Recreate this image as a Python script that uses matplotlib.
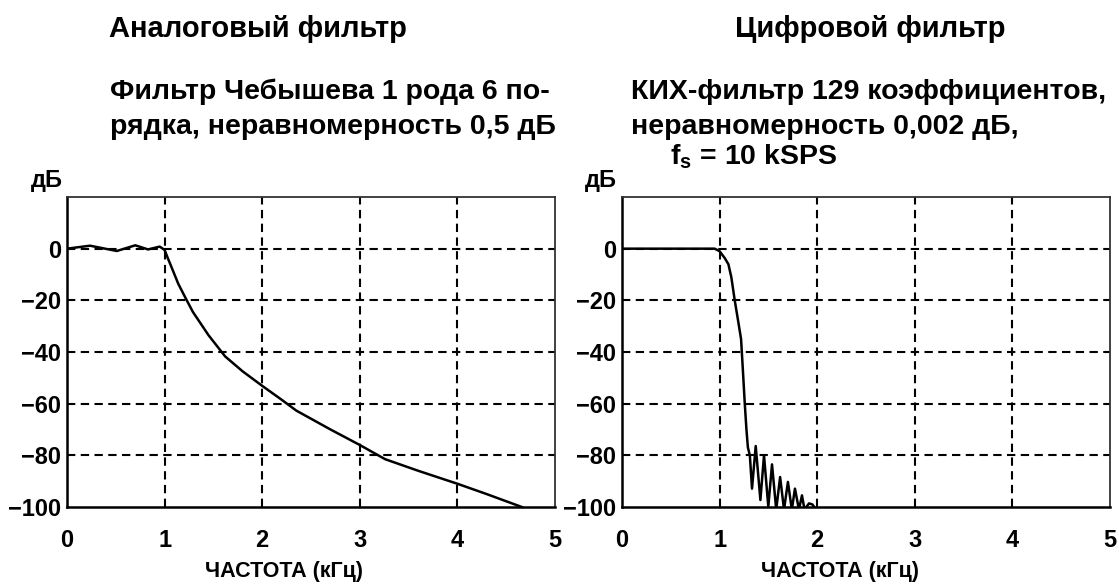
import matplotlib.pyplot as plt
import numpy as np

plt.rcParams['font.family'] = ['Liberation Sans', 'DejaVu Sans']
plt.rcParams['font.weight'] = 'bold'
plt.rcParams['mathtext.fontset'] = 'custom'
plt.rcParams['mathtext.bf'] = 'Liberation Sans:bold'
plt.rcParams['mathtext.rm'] = 'Liberation Sans:bold'

# analog: Chebyshev type 1, 6th order, 0.5 dB ripple
f_analog = [0, 0.236, 0.51, 0.70, 0.83, 0.95, 1.0, 1.03, 1.08, 1.14, 1.22, 1.29,
            1.45, 1.62, 1.8, 2.0, 2.2, 2.35, 2.7, 3.0, 3.26, 3.6, 4.0, 4.3, 4.66]
db_analog = [0, 1.15, -0.9, 1.3, -0.3, 0.8, -0.5, -3.4, -8, -13.6, -19.5, -24.5,
             -33.5, -41.7, -47.5, -53.1, -58.5, -62.7, -70, -76, -81.5, -86, -91, -95, -100]

# digital: FIR 129 taps
f_fir = [0, 0.5, 0.95, 1.0, 1.05, 1.09, 1.12, 1.155, 1.19, 1.22, 1.24, 1.258, 1.275,
         1.29, 1.31, 1.332, 1.37, 1.418, 1.455, 1.499, 1.537, 1.58, 1.62, 1.66, 1.70,
         1.74, 1.772, 1.813, 1.844, 1.87, 1.916, 1.95, 1.97, 1.99]
db_fir = [0, 0, 0, -1, -3.5, -6, -11, -20, -28, -35, -48, -60, -70,
          -77, -80, -92.9, -76.4, -97.3, -80, -99.9, -83.5, -101, -88.4, -101, -90.3,
          -101, -92.9, -101, -95.5, -101, -98.6, -99, -100, -101]

xticks = [0, 1, 2, 3, 4, 5]
yticks = [0, -20, -40, -60, -80, -100]
yticklabels = ['0', '\u221220', '\u221240', '\u221260', '\u221280', '\u2212100']

fig = plt.figure(figsize=(11.19, 5.85), dpi=100)
W, H = 1119, 585

def make_axes(left, f, db):
    ax = fig.add_axes([left / W, (H - 507) / H, 488 / W, 310 / H])
    ax.plot(f, db, color='black', lw=1.8)
    ax.set_xlim(0, 5)
    ax.set_ylim(-100, 20)
    ax.set_xticks(xticks)
    ax.set_yticks(yticks)
    ax.set_yticklabels(yticklabels)
    ax.tick_params(length=0, labelsize=17)
    ax.tick_params(axis='x', pad=16)
    ax.tick_params(axis='y', pad=4)
    for v in [1, 2, 3, 4]:
        ax.axvline(v, color='black', lw=1.5, ls=(0, (4, 2.6)), zorder=0)
    for v in [0, -20, -40, -60, -80]:
        ax.axhline(v, color='black', lw=1.5, ls=(0, (4, 2.6)), zorder=0)
    ax.spines['left'].set_linewidth(1.8)
    ax.spines['bottom'].set_linewidth(1.8)
    ax.spines['top'].set_linewidth(1.3)
    ax.spines['right'].set_linewidth(1.3)
    ax.spines['top'].set_color('#333333')
    ax.spines['right'].set_color('#333333')
    return ax

ax1 = make_axes(67, f_analog, db_analog)
ax2 = make_axes(622, f_fir, db_fir)

fig.text(258 / W, 1 - 29 / H, 'Аналоговый фильтр', ha='center', va='center', fontsize=21)
fig.text(870 / W, 1 - 29 / H, 'Цифровой фильтр', ha='center', va='center', fontsize=21)
fig.text(110 / W, 1 - 92 / H, 'Фильтр Чебышева 1 рода 6 по-', ha='left', va='center', fontsize=20.5)
fig.text(110 / W, 1 - 127 / H, 'рядка, неравномерность 0,5 дБ', ha='left', va='center', fontsize=20.5)
fig.text(631 / W, 1 - 92 / H, 'КИХ-фильтр 129 коэффициентов,', ha='left', va='center', fontsize=20.5)
fig.text(631 / W, 1 - 127 / H, 'неравномерность 0,002 дБ,', ha='left', va='center', fontsize=20.5)
fig.text(670 / W, 1 - 157 / H, '$\\mathbf{f_s}$ = 10 kSPS', ha='left', va='center', fontsize=20.5)
fig.text(47 / W, 1 - 181 / H, 'дБ', ha='center', va='center', fontsize=17)
fig.text(601 / W, 1 - 181 / H, 'дБ', ha='center', va='center', fontsize=17)
fig.text(284 / W, 1 - 572 / H, 'ЧАСТОТА (кГц)', ha='center', va='center', fontsize=15.5)
fig.text(840 / W, 1 - 572 / H, 'ЧАСТОТА (кГц)', ha='center', va='center', fontsize=15.5)

fig.savefig('out.png', dpi=100)
